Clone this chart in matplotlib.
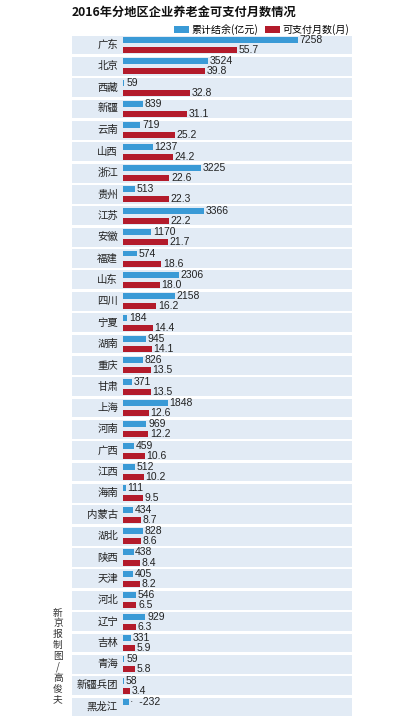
import matplotlib
matplotlib.use('Agg')
import matplotlib.pyplot as plt
from matplotlib.patches import Patch
from matplotlib.transforms import blended_transform_factory
import numpy as np

plt.rcParams['font.family'] = ['Noto Sans CJK SC', 'DejaVu Sans']

title = '2016年分地区企业养老金可支付月数情况'
provinces = ['广东', '北京', '西藏', '新疆', '云南', '山西', '浙江', '贵州', '江苏', '安徽',
             '福建', '山东', '四川', '宁夏', '湖南', '重庆', '甘肃', '上海', '河南', '广西',
             '江西', '海南', '内蒙古', '湖北', '陕西', '天津', '河北', '辽宁', '吉林', '青海',
             '新疆兵团', '黑龙江']
balance = [7258, 3524, 59, 839, 719, 1237, 3225, 513, 3366, 1170,
           574, 2306, 2158, 184, 945, 826, 371, 1848, 969, 459,
           512, 111, 434, 828, 438, 405, 546, 929, 331, 59,
           58, -232]
months = [55.7, 39.8, 32.8, 31.1, 25.2, 24.2, 22.6, 22.3, 22.2, 21.7,
          18.6, 18.0, 16.2, 14.4, 14.1, 13.5, 13.5, 12.6, 12.2, 10.6,
          10.2, 9.5, 8.7, 8.6, 8.4, 8.2, 6.5, 6.3, 5.9, 5.8,
          3.4, np.nan]
legend_labels = ['累计结余(亿元)', '可支付月数(月)']
credit = '新京报制图/高俊夫'

BLUE = '#3a9ad6'
RED = '#b31b2b'
BAND = '#e2ebf5'

fig = plt.figure(figsize=(4.11, 7.22), dpi=100)
ax = fig.add_axes([0.1752, 0.006, 0.6813, 0.9465])
ax2 = ax.twiny()

y = np.arange(len(provinces))
for i in y:
    ax.axhspan(i - 0.44, i + 0.44, color=BAND, zorder=0, lw=0)

# blue bar: absolute size (Heilongjiang is negative, drawn as a small box)
b1 = ax.barh(y - 0.235, np.abs(balance), height=0.28, color=BLUE, zorder=2)
b2 = ax2.barh(y + 0.235, months, height=0.28, color=RED, zorder=2)

num_font = ['Liberation Sans', 'DejaVu Sans']
blabels = [str(v) if v >= 0 else '·  ' + str(v) for v in balance]
mlabels = ['' if np.isnan(v) else '%.1f' % v for v in months]
ax.bar_label(b1, labels=blabels, padding=1.2, fontsize=7.5, family=num_font, color='#222222')
ax2.bar_label(b2, labels=mlabels, padding=1.2, fontsize=7.5, family=num_font, color='#222222')

ax.set_xlim(-2116, 9502)
ax2.set_xlim(-24.9, 111.7)
ax.set_ylim(len(provinces) - 0.5, -0.5)
ax2.set_ylim(len(provinces) - 0.5, -0.5)

trans = blended_transform_factory(ax.transAxes, ax.transData)
for i, name in enumerate(provinces):
    ax.text(0.164, i, name, transform=trans, ha='right', va='center',
            fontsize=7.5, color='#222222')

for a in (ax, ax2):
    a.set_facecolor('none')
    for s in a.spines.values():
        s.set_visible(False)
    a.set_xticks([])
    a.set_yticks([])

fig.text(0.175, 0.983, title, fontsize=8.8, fontweight='bold', ha='left', va='center',
         color='#111111')

handles = [Patch(facecolor=BLUE), Patch(facecolor=RED)]
fig.legend(handles, legend_labels, loc='center right', bbox_to_anchor=(0.85, 0.959),
           ncol=2, frameon=False, fontsize=7.2, handlelength=1.5, handleheight=0.7,
           handletextpad=0.3, columnspacing=0.6, borderaxespad=0, borderpad=0)

fig.text(0.141, 0.0914, '\n'.join(credit), fontsize=7, ha='center', va='center',
         color='#333333', linespacing=1.1)

fig.savefig('out.png', dpi=100)
